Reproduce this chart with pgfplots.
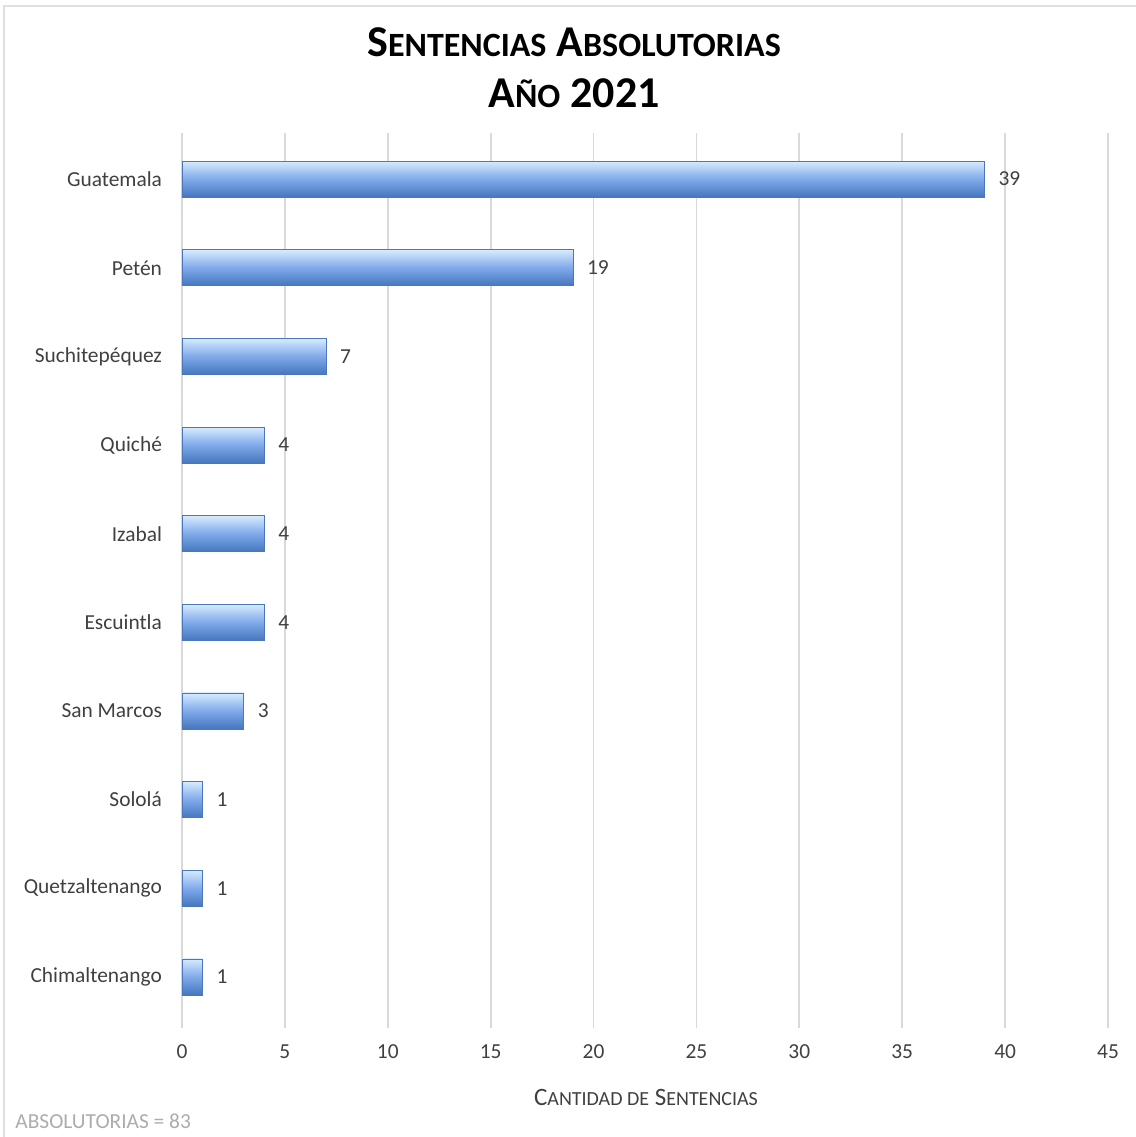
\documentclass[border=0pt]{standalone}
\usepackage{fontspec}
\setmainfont{Carlito}
\usepackage{pgfplots}
\pgfplotsset{compat=1.18}
\definecolor{barTop}{HTML}{D6EBFF}
\definecolor{barMid}{HTML}{7FA9EA}
\definecolor{barBot}{HTML}{4676BE}
\definecolor{barEdge}{HTML}{4A78BA}
\definecolor{tickgray}{HTML}{404040}
\definecolor{gridgray}{HTML}{D9D9D9}
\newcommand{\bigc}[1]{{\fontsize{22}{26}\selectfont #1}}
\newcommand{\smc}[1]{{\fontsize{17}{20}\selectfont #1}}
\newcommand{\lbc}[1]{{\fontsize{12.5}{15}\selectfont #1}}
\newcommand{\lsc}[1]{{\fontsize{10}{12}\selectfont #1}}
\begin{document}
\begin{tikzpicture}[x=0.5pt,y=-0.5pt]
\path[use as bounding box] (0,0) rectangle (1136,1137);
\draw[gray!25, line width=1pt] (3.5,1137) -- (3.5,5.5) -- (1136,5.5);
\node[font=\bfseries, inner sep=0] at (574,42) {\bigc{S}\smc{ENTENCIAS}\bigc{ A}\smc{BSOLUTORIAS}};
\node[font=\bfseries, inner sep=0] at (574,93) {\bigc{A}\smc{ÑO}\bigc{ 2021}};
\node[text=tickgray, inner sep=0] at (646,1097) {\lbc{C}\lsc{ANTIDAD DE}\lbc{ S}\lsc{ENTENCIAS}};
\node[anchor=west, text=gray!65, font=\fontsize{10.7}{12}\selectfont, inner sep=0] at (15,1121) {ABSOLUTORIAS = 83};
\coordinate (A) at (182,1023);
\begin{axis}[
 at={(A)}, anchor=south west,
 scale only axis, width=463pt, height=445pt,
 xbar, bar width=18pt, bar shift=0pt,
 xmin=0, xmax=45, ymin=-0.52, ymax=9.52, y dir=reverse,
 xtick={0,5,...,45},
 ytick={0,...,9},
 yticklabels={Guatemala,Petén,Suchitepéquez,Quiché,Izabal,Escuintla,San Marcos,Sololá,Quetzaltenango,Chimaltenango},
 axis x line*=bottom, axis y line*=left,
 axis line style={draw=none},
 xmajorgrids, major grid style={gridgray, line width=0.9pt},
 tick align=outside, major tick length=2.5pt,
 xtick style={draw=gridgray, line width=0.9pt},
 ytick style={draw=none},
 /pgf/number format/assume math mode=true,
 ticklabel style={font=\fontsize{10.7}{12}\selectfont, text=tickgray},
 yticklabel style={xshift=-4pt},
 xticklabel style={yshift=-4.7pt},
 nodes near coords,
 nodes near coords style={font=\fontsize{10.7}{12}\selectfont, text=tickgray, anchor=west, xshift=3.5pt},
 mybar/.style={draw=barEdge, line width=0.4pt, top color=barTop, bottom color=barBot, middle color=barMid},
]
\addplot[mybar] coordinates {(39,0)};
\addplot[mybar] coordinates {(19,1)};
\addplot[mybar] coordinates {(7,2)};
\addplot[mybar] coordinates {(4,3)};
\addplot[mybar] coordinates {(4,4)};
\addplot[mybar] coordinates {(4,5)};
\addplot[mybar] coordinates {(3,6)};
\addplot[mybar] coordinates {(1,7)};
\addplot[mybar] coordinates {(1,8)};
\addplot[mybar] coordinates {(1,9)};
\end{axis}
\end{tikzpicture}
\end{document}
